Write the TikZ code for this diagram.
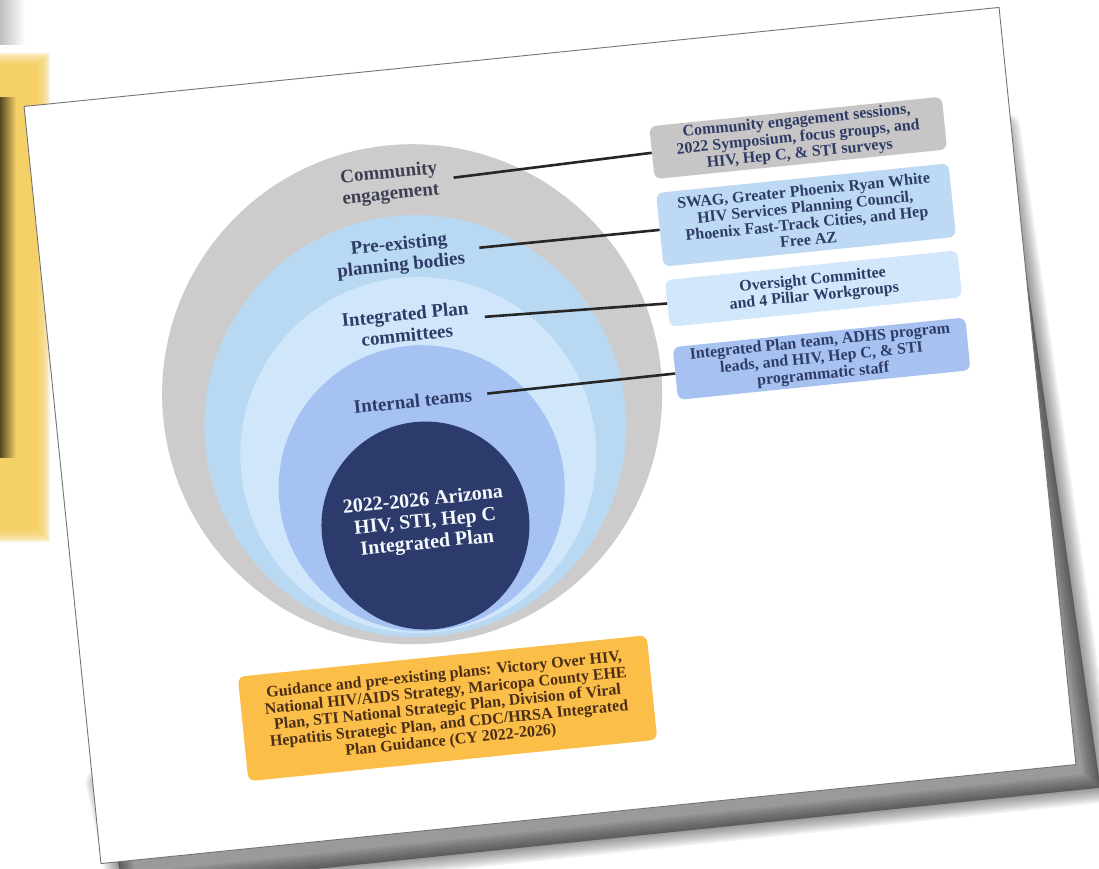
\documentclass[tikz,border=0pt]{standalone}
\usepackage{fontspec}
\setmainfont{Liberation Serif}

\definecolor{ringgray}{HTML}{CDCBCB}
\definecolor{ringpre}{HTML}{B9D8F1}
\definecolor{ringcomm}{HTML}{CFE6FB}
\definecolor{ringteam}{HTML}{A5C2F2}
\definecolor{ringcore}{HTML}{2C3B6C}
\definecolor{navytext}{HTML}{2E3B66}
\definecolor{graytext}{HTML}{3E4155}
\definecolor{boxgray}{HTML}{C7C5C5}
\definecolor{boxpre}{HTML}{BDD9F3}
\definecolor{boxcomm}{HTML}{D2E7FB}
\definecolor{boxteam}{HTML}{A7C2F1}
\definecolor{boxguide}{HTML}{FBBE48}
\definecolor{guidetext}{HTML}{4A2E17}
\definecolor{stripyellow}{HTML}{F5D066}

\tikzset{
  ringlabel/.style={align=center, font=\fontsize{19}{21}\selectfont\bfseries, text=navytext},
  sidebox/.style={rounded corners=7pt, minimum width=294pt, align=center, inner sep=2pt,
    font=\fontsize{16}{16.5}\selectfont\bfseries, text=navytext},
  link/.style={line width=2.6pt, color=black!85, shorten <=12pt}
}

\begin{document}
\begin{tikzpicture}[x=1pt,y=1pt]
  \useasboundingbox (0,0) rectangle (1099,868);
  \fill[white] (0,0) rectangle (1099,868);

  % slide behind the page
  \shade[left color=black!25, right color=white] (0,823) rectangle (25,868);
  \fill[stripyellow] (0,338) rectangle (38,803);
  \foreach \k in {1,...,6}
    \fill[stripyellow, opacity=0.3] (0,{338-2*\k}) rectangle ({38+2*\k},{803+2*\k});
  \shade[left color=black!65!stripyellow, right color=stripyellow] (0,410) rectangle (16,770);

  \begin{scope}[shift={(550,432.5)}, rotate=5.8, transform shape]
    % soft shadow of the page
    \foreach \w in {30,26,...,2}
      \filldraw[black, opacity=0.06, line width=\w pt, line join=round]
        (484,260) -- (512,-406) -- (-470,-408) -- (-482,-300) -- cycle;
    % page
    \fill[white, draw=black!55, line width=0.9pt] (-490,-380.5) rectangle (490,380.5);

    % rings
    \fill[ringgray] (-133,55) circle (250);
    \fill[ringpre] (-133,23) circle (211);
    \fill[ringcomm] (-133,-6) circle (178);
    \fill[ringteam] (-133,-39.5) circle (143);
    \fill[ringcore] (-133,-77) circle (104);

    \node[ringlabel, text=graytext] (lcommunity) at (-134,266) {Community\\engagement};
    \node[ringlabel] (lbodies) at (-131,194) {Pre-existing\\planning bodies};
    \node[ringlabel] (lcommittees) at (-132,125) {Integrated Plan\\committees};
    \node[ringlabel] (lteams) at (-133,48) {Internal teams};
    \node[ringlabel, text=white!90!ringteam, font=\fontsize{20}{21.5}\selectfont\bfseries] (lplan) at (-133,-74)
      {2022-2026 Arizona\\HIV, STI, Hep C\\Integrated Plan};

    % side boxes
    \node[sidebox, fill=boxgray, minimum height=53pt] (bcommunity) at (277,271)
      {Community engagement sessions,\\2022 Symposium, focus groups, and\\HIV, Hep C, \& STI surveys};
    \node[sidebox, fill=boxpre, minimum height=74pt] (bbodies) at (277,193.5)
      {SWAG, Greater Phoenix Ryan White\\HIV Services Planning Council,\\Phoenix Fast-Track Cities, and Hep\\Free AZ};
    \node[sidebox, fill=boxcomm, minimum height=47pt] (bcommittees) at (277,119.5)
      {Oversight Committee\\and 4 Pillar Workgroups};
    \node[sidebox, fill=boxteam, minimum height=53pt] (bteams) at (278,49)
      {Integrated Plan team, ADHS program\\leads, and HIV, Hep C, \& STI\\programmatic staff};
    \node[sidebox, fill=boxguide, text=guidetext, minimum width=411pt, minimum height=105pt] (bguide) at (-129.5,-261)
      {Guidance and pre-existing plans: Victory Over HIV,\\National HIV/AIDS Strategy, Maricopa County EHE\\Plan, STI National Strategic Plan, Division of Viral\\Hepatitis Strategic Plan, and CDC/HRSA Integrated\\Plan Guidance (CY 2022-2026)};

    \draw[link] (lcommunity.east) -- (bcommunity.west);
    \draw[link] (lbodies.east) -- (bbodies.west);
    \draw[link] (lcommittees.east) -- (bcommittees.west);
    \draw[link] (lteams.east) -- (bteams.west);
  \end{scope}
\end{tikzpicture}
\end{document}
